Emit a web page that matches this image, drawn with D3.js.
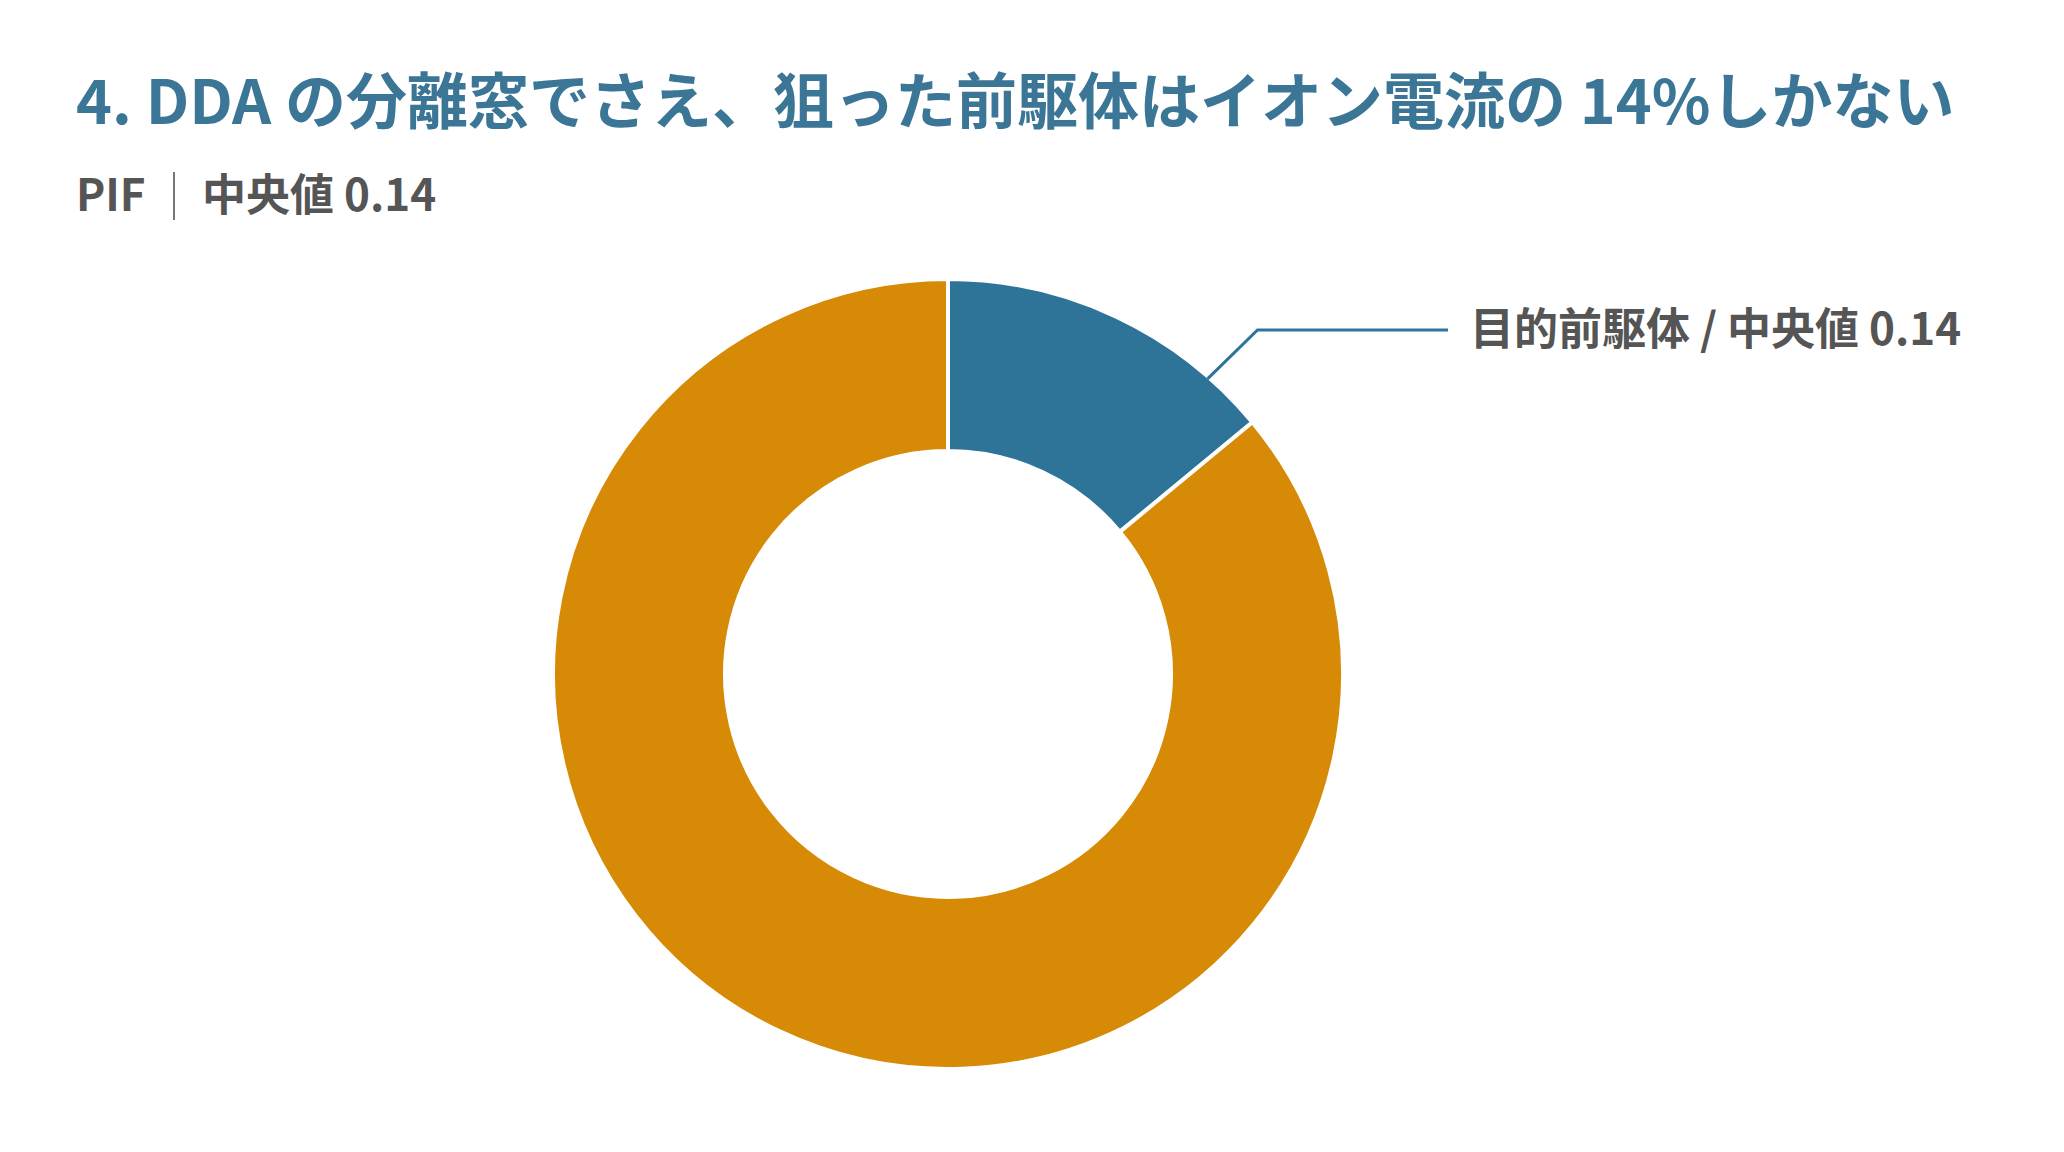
<!DOCTYPE html>
<html><head><meta charset="utf-8">
<script src="https://cdn.jsdelivr.net/npm/d3@7"></script>
<style>body{margin:0;background:#fff}svg{display:block}</style>
</head><body>
<svg id="chart" width="2064" height="1152"></svg>
<script>
const labels = ["目的前駆体", "その他"];
const values = [0.14, 0.86];
const colors = ["#2e7499", "#d68a06"];

const svg = d3.select("#chart");
const font = "'Noto Sans CJK JP', 'Noto Sans', sans-serif";

svg.append("text").attr("x", 76).attr("y", 124)
  .attr("font-family", font).attr("font-weight", 700).attr("font-size", 61)
  .attr("fill", "#3b7696")
  .text("4. DDA の分離窓でさえ、狙った前駆体はイオン電流の 14%しかない");

const sub = svg.append("g").attr("font-family", font).attr("font-weight", 700)
  .attr("font-size", 44).attr("fill", "#555");
sub.append("text").attr("x", 76).attr("y", 211).text("PIF");
sub.append("line").attr("x1", 174).attr("x2", 174).attr("y1", 172).attr("y2", 220)
  .attr("stroke", "#777").attr("stroke-width", 2);
sub.append("text").attr("x", 202).attr("y", 211).text("中央値 0.14");

const cx = 948, cy = 674, R = 395, r = 223;
const pie = d3.pie().sort(null).value(d => d)(values);
const arc = d3.arc().innerRadius(r).outerRadius(R);
const g = svg.append("g").attr("transform", `translate(${cx},${cy})`);
g.selectAll("path").data(pie).enter().append("path")
  .attr("d", arc).attr("fill", (d, i) => colors[i])
  .attr("stroke", "#fff").attr("stroke-width", 4);

// leader line for the target slice
const s = pie[0];
const a = s.endAngle * 0.82;
const p0 = [Math.sin(a) * (R - 2), -Math.cos(a) * (R - 2)];
const p1 = [p0[0] + 50, p0[1] - 49];
const p2 = [500, p1[1]];
g.append("polyline").attr("points", [p0, p1, p2].map(p => p.join(",")).join(" "))
  .attr("fill", "none").attr("stroke", colors[0]).attr("stroke-width", 3);
g.append("text").attr("x", p2[0] + 22).attr("y", p1[1] + 15)
  .attr("font-family", font).attr("font-weight", 700).attr("font-size", 44)
  .attr("fill", "#555").text(labels[0] + " / 中央値 " + values[0]);
</script>
</body></html>
